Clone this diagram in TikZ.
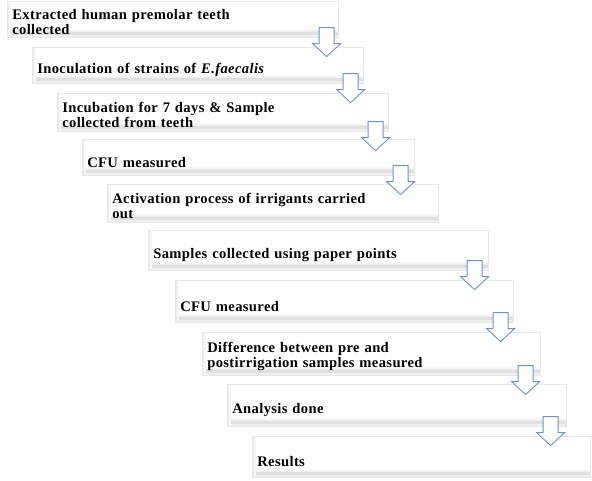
\documentclass[tikz,border=0pt]{standalone}
\usepackage{fontspec}
\setmainfont{Liberation Serif}[LetterSpace=2.5]
\usetikzlibrary{calc}
\definecolor{arrowblue}{RGB}{110,145,205}
\newcommand\toplift[1]{\rule{0pt}{#1}}
\tikzset{
  stepbox/.style={draw=gray!18, line width=0.6pt, fill=white, anchor=north west,
    inner xsep=5pt, inner ysep=0pt, align=left,
    font=\bfseries\fontsize{14.6}{15}\selectfont,
    path picture={
      \fill[gray!6] ([yshift=8pt]path picture bounding box.south west) rectangle
        ([yshift=6.5pt]path picture bounding box.south east);
      \fill[gray!14] ([yshift=6.5pt]path picture bounding box.south west) rectangle
        ([yshift=5pt]path picture bounding box.south east);
      \fill[gray!24] ([yshift=5pt]path picture bounding box.south west) rectangle
        ([yshift=2.5pt]path picture bounding box.south east);
      \fill[gray!12] ([yshift=2.5pt]path picture bounding box.south west) rectangle
        (path picture bounding box.south east);
      \fill[gray!14] (path picture bounding box.south west) rectangle
        ([xshift=2pt]path picture bounding box.north west);
      \fill[gray!6] ([xshift=2pt]path picture bounding box.south west) rectangle
        ([xshift=4pt]path picture bounding box.north west);
    }},
  oneline/.style={execute at begin node={\toplift{20pt}}},
  twoline/.style={execute at begin node={\toplift{15pt}}},
  blockarr/.style={draw=arrowblue, fill=white, line width=0.9pt, line join=miter}
}
\newcommand\flowarrow[2]{%
  \draw[blockarr] ($(#1.south east)+(#2,0)$) ++(-7.5,-10) -- ++(15,0) -- ++(0,16)
    -- ++(6.5,0) -- ++(-14,13) -- ++(-14,-13) -- ++(6.5,0) -- cycle;}
\begin{document}
\begin{tikzpicture}[x=1pt,y=-1pt]
\useasboundingbox[fill=white] (0,0) rectangle (592,480);

\node[stepbox, twoline, text width=321pt, minimum height=36pt] (b1) at (7,1)
  {Extracted human premolar teeth\\collected};
\node[stepbox, oneline, text width=321pt, minimum height=36pt] (b2) at (32,47)
  {Inoculation of strains of \textit{E.faecalis}};
\node[stepbox, twoline, text width=321pt, minimum height=38pt] (b3) at (57,93)
  {Incubation for 7 days \& Sample\\collected from teeth};
\node[stepbox, oneline, text width=322pt, minimum height=36pt] (b4) at (82,139)
  {CFU measured};
\node[stepbox, twoline, text width=321pt, minimum height=38pt] (b5) at (107,184)
  {Activation process of irrigants carried\\out};
\node[stepbox, oneline, text width=330pt, minimum height=40pt] (b6) at (148,230)
  {Samples collected using paper points};
\node[stepbox, oneline, text width=328pt, minimum height=42pt] (b7) at (175,280)
  {CFU measured};
\node[stepbox, twoline, text width=328pt, minimum height=43pt] (b8) at (202,332)
  {Difference between pre and\\postirrigation samples measured};
\node[stepbox, oneline, text width=329pt, minimum height=42pt] (b9) at (227,384)
  {Analysis done};
\node[stepbox, oneline, text width=328pt, minimum height=41pt] (b10) at (252,436)
  {Results};

\flowarrow{b1}{-12}
\flowarrow{b2}{-13}
\flowarrow{b3}{-13}
\flowarrow{b4}{-14}
\flowarrow{b6}{-14}
\flowarrow{b7}{-13}
\flowarrow{b8}{-15}
\flowarrow{b9}{-16}
\end{tikzpicture}
\end{document}
